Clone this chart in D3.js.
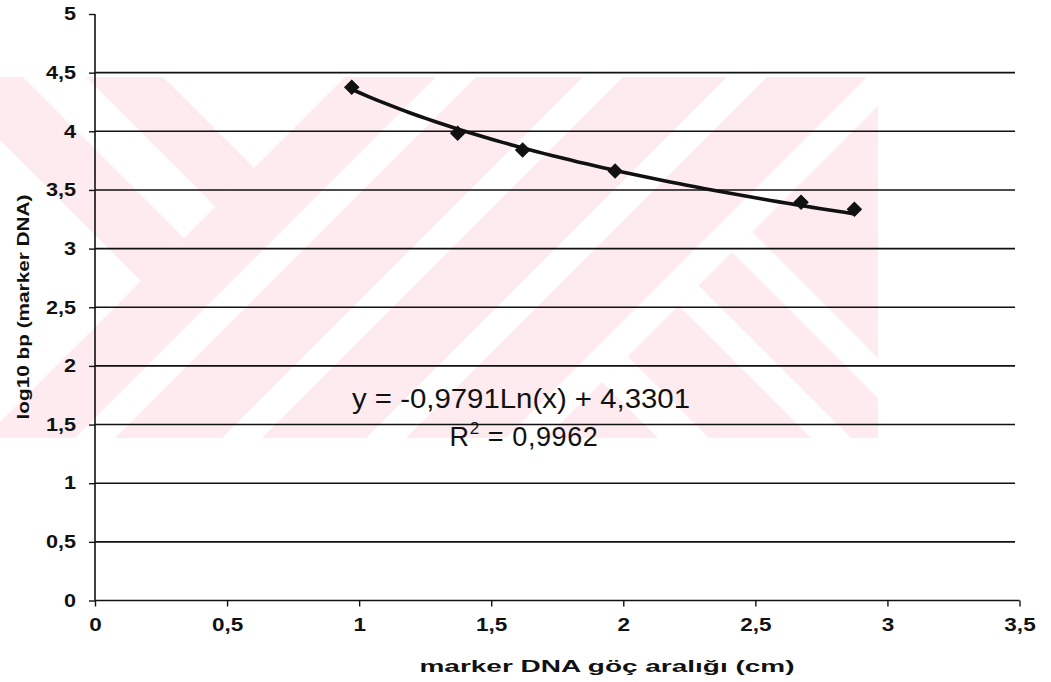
<!DOCTYPE html>
<html>
<head>
<meta charset="utf-8">
<script src="https://cdn.jsdelivr.net/npm/d3@7"></script>
<style>
  html, body { margin: 0; padding: 0; background: #fff; }
  svg { display: block; }
  text { font-family: Arial, "Liberation Sans", sans-serif; fill: #111; }
</style>
</head>
<body>
<svg id="chart" width="1051" height="682"></svg>
<script>
// ---- data ----
const migration = [0.972, 1.373, 1.619, 1.969, 2.673, 2.875];   // marker DNA göç aralığı (cm)
const logBp     = [4.375, 3.983, 3.841, 3.662, 3.395, 3.335];   // log10 bp
const xTicks = [0, 0.5, 1, 1.5, 2, 2.5, 3, 3.5];
const yTicks = [0, 0.5, 1, 1.5, 2, 2.5, 3, 3.5, 4, 4.5, 5];
const fitA = -0.9791, fitB = 4.3301;   // y = a·ln(x) + b
const eqText = "y = -0,9791Ln(x) + 4,3301";
const r2Text = " = 0,9962";
const xTitle = "marker DNA göç aralığı (cm)";
const yTitle = "log10 bp (marker DNA)";

const fmt = v => String(v).replace(".", ",");

const svg = d3.select("#chart");
const x = d3.scaleLinear().domain([0, 3.5]).range([95, 1019.5]);
const y = d3.scaleLinear().domain([0, 5]).range([600.5, 14]);

// ---- watermark (light pink diagonal pattern) ----
const PINK = "#fdebef";
const defs = svg.append("defs");
const T = 77, B = 438, R = 878;
defs.append("clipPath").attr("id", "wm").append("rect")
  .attr("x", 0).attr("y", T).attr("width", R).attr("height", B - T);
defs.append("clipPath").attr("id", "upperLeft").append("polygon")
  .attr("points", `0,${T} ${422 - T},${T} 0,422`);
defs.append("clipPath").attr("id", "lowerRight").append("polygon")
  .attr("points", `${984 - T},${T} 1200,${T} 1200,${B} ${984 - B},${B}`);
const back = (c1, c2) => `${c1 + T - 400},${T - 400} ${c2 + T - 400},${T - 400} ${c2 + B + 400},${B + 400} ${c1 + B + 400},${B + 400}`;
const fwd  = (s1, s2) => `${s1 - T + 400},${T - 400} ${s2 - T + 400},${T - 400} ${s2 - B - 400},${B + 400} ${s1 - B - 400},${B + 400}`;
const wm = svg.append("g").attr("clip-path", "url(#wm)");
wm.append("rect").attr("x", 0).attr("y", T).attr("width", R).attr("height", B - T).attr("fill", PINK);
const ul = wm.append("g").attr("clip-path", "url(#upperLeft)");
ul.append("rect").attr("x", 0).attr("y", T).attr("width", R).attr("height", B - T).attr("fill", "#fff");
[[-140, -54], [9, 86]].forEach(([a, b]) => ul.append("polygon").attr("points", back(a, b)).attr("fill", PINK));
[[513, 553], [660, 700], [804, 844], [944, 984]].forEach(([a, b]) =>
  wm.append("polygon").attr("points", fwd(a, b)).attr("fill", "#fff"));
const lr = wm.append("g").attr("clip-path", "url(#lowerRight)");
[[220, 271], [373, 413], [480, 520]].forEach(([a, b]) =>
  lr.append("polygon").attr("points", back(a, b)).attr("fill", "#fff"));

// ---- gridlines ----
svg.append("g").selectAll("line").data(yTicks.filter(v => v > 0 && v < 5)).join("line")
  .attr("x1", x(0)).attr("x2", 1015)
  .attr("y1", d => y(d)).attr("y2", d => y(d))
  .attr("stroke", "#111").attr("stroke-width", 1.6);

// ---- axes ----
const xAxis = svg.append("g").attr("transform", `translate(0,${y(0)})`)
  .call(d3.axisBottom(x).tickValues(xTicks).tickSize(6).tickPadding(12).tickFormat(fmt));
const yAxis = svg.append("g").attr("transform", `translate(${x(0)},0)`)
  .call(d3.axisLeft(y).tickValues(yTicks).tickSize(6).tickPadding(13).tickFormat(fmt));
[xAxis, yAxis].forEach(g => {
  g.select(".domain").attr("stroke", "#111").attr("stroke-width", 1.6);
  g.selectAll(".tick line").attr("stroke", "#111").attr("stroke-width", 1.4);
  g.selectAll(".tick text").attr("font-size", 18).attr("font-weight", "bold")
    .attr("font-family", "Arial, 'Liberation Sans', sans-serif").attr("fill", "#111");
});
xAxis.select(".domain").attr("d", `M${x(0)},0H${x(3.5)}`);
yAxis.select(".domain").attr("d", `M0,${y(0)}V${y(5)}`);

function stretch(sel, k) {
  sel.each(function () {
    const L = this.getComputedTextLength();
    d3.select(this).attr("textLength", L * k).attr("lengthAdjust", "spacingAndGlyphs");
  });
}
stretch(xAxis.selectAll(".tick text"), 1.25);
stretch(yAxis.selectAll(".tick text"), 1.2);

// ---- axis titles ----
const xt = svg.append("text").attr("x", 607).attr("y", 672).attr("text-anchor", "middle")
  .attr("font-size", 16).attr("font-weight", "bold").text(xTitle);
xt.attr("textLength", 375).attr("lengthAdjust", "spacingAndGlyphs");
const yt = svg.append("text").attr("transform", "translate(29,307) rotate(-90)").attr("text-anchor", "middle")
  .attr("font-size", 17).attr("font-weight", "bold").text(yTitle);
yt.attr("textLength", 225).attr("lengthAdjust", "spacingAndGlyphs");

// ---- trendline ----
const xs = d3.range(0, 61).map(i => migration[0] + (migration[migration.length - 1] - migration[0]) * i / 60);
svg.append("path").datum(xs)
  .attr("d", d3.line().x(d => x(d)).y(d => y(fitA * Math.log(d) + fitB)))
  .attr("fill", "none").attr("stroke", "#111").attr("stroke-width", 3.6);

// ---- markers ----
svg.append("g").selectAll("path").data(migration.map((m, i) => [m, logBp[i]])).join("path")
  .attr("transform", d => `translate(${x(d[0])},${y(d[1])}) rotate(45)`)
  .attr("d", d3.symbol(d3.symbolSquare, 100)())
  .attr("fill", "#111").attr("stroke", "#111").attr("stroke-width", 1);

// ---- equation ----
svg.append("text").attr("x", 521).attr("y", 408).attr("text-anchor", "middle")
  .attr("font-size", 27).text(eqText).attr("textLength", 338).attr("lengthAdjust", "spacingAndGlyphs");
const r2 = svg.append("text").attr("x", 524).attr("y", 446).attr("text-anchor", "middle")
  .attr("font-size", 27).attr("letter-spacing", 0.6);
r2.append("tspan").text("R");
r2.append("tspan").attr("font-size", 17).attr("dy", -12).text("2");
r2.append("tspan").attr("dy", 12).text(r2Text);
</script>
</body>
</html>
